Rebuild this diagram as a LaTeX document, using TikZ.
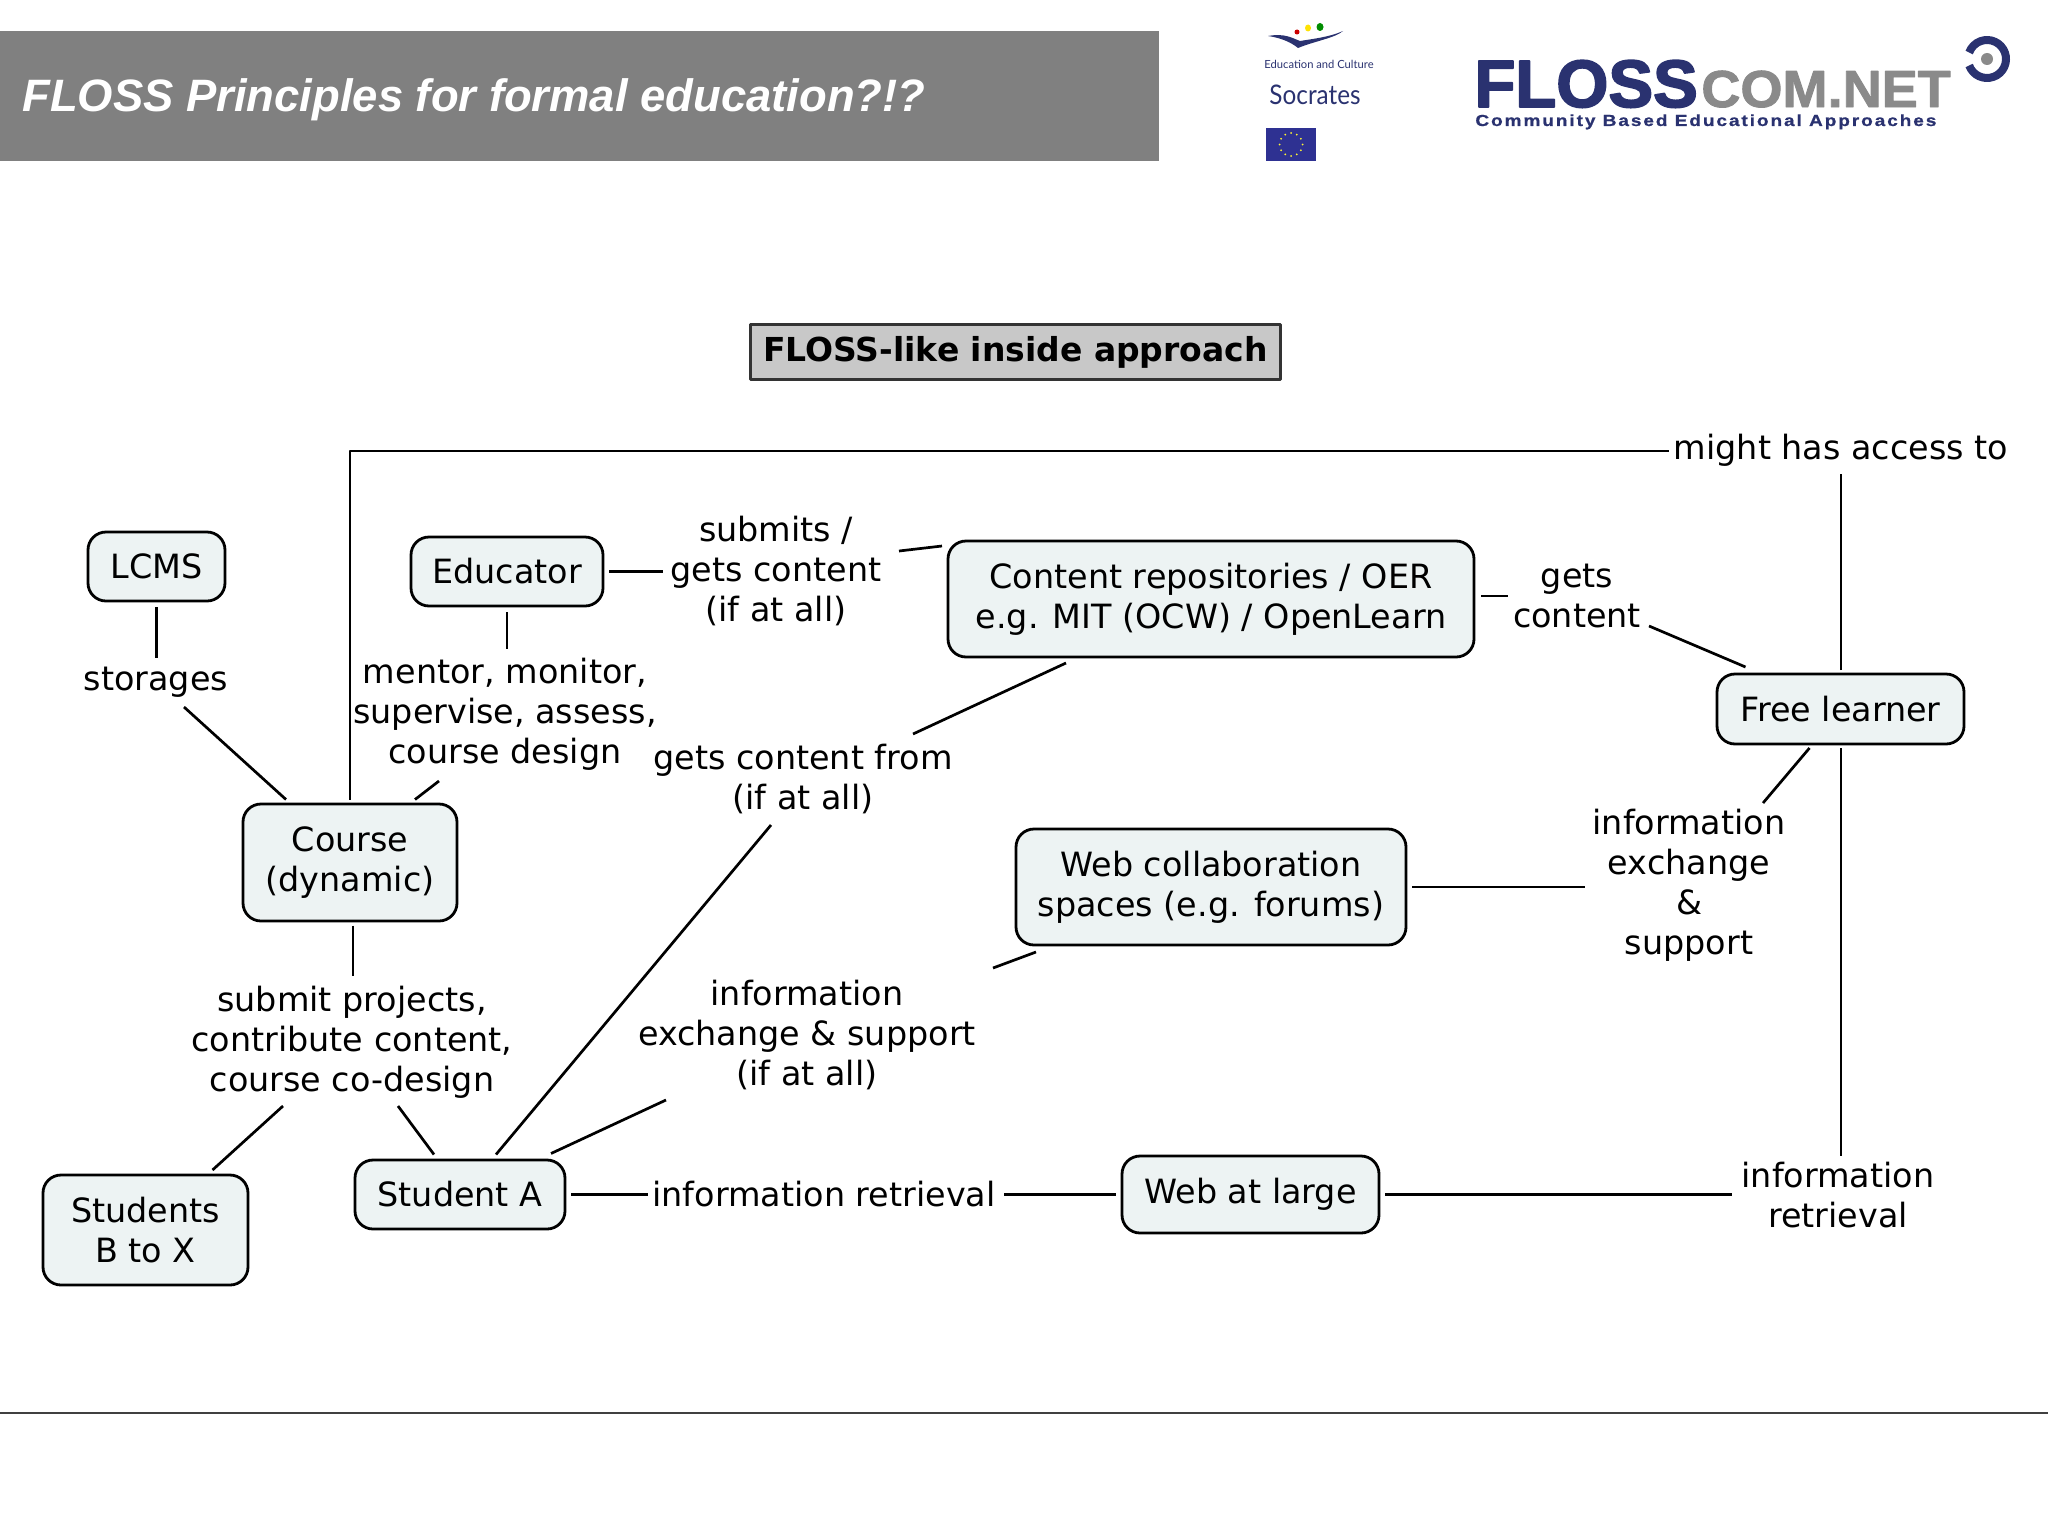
\documentclass[tikz,border=0pt]{standalone}
\usepackage{fontspec}
\usetikzlibrary{calc}
\setmainfont{DejaVu Sans}
\newfontfamily\headfont{Liberation Sans}
\newfontfamily\flossfont[FakeBold=2.6]{Liberation Sans}
\newfontfamily\comfont[FakeBold=1.8,FakeStretch=1.04]{Liberation Sans}
\newfontfamily\tagfont[FakeBold=0.8,FakeStretch=1.19,LetterSpace=12]{Liberation Sans}
\newfontfamily\socfont{Lato}
\newfontfamily\socratesfont[FakeStretch=0.9]{Lato}
\definecolor{headgrey}{HTML}{808080}
\definecolor{boxfill}{HTML}{EDF3F3}
\definecolor{titlefill}{HTML}{C8C8C8}
\definecolor{logonavy}{HTML}{2A3270}
\definecolor{logogrey}{HTML}{8A8A8A}
\definecolor{euroblue}{HTML}{2E3192}

\begin{document}
\begin{tikzpicture}[
  x=0.5pt,
  y=-0.5pt,
  line join=round,
  conceptbox/.style={draw=black,fill=boxfill,line width=1.4pt,rounded corners=9pt,
    align=center,inner sep=0pt,outer sep=3pt,font=\fontsize{16.7}{20}\selectfont},
  linklabel/.style={align=center,inner sep=0pt,font=\fontsize{16.7}{20}\selectfont},
  link/.style={draw=black,line width=1.35pt}
]
  \useasboundingbox (0,0) rectangle (2048,1536);

  % Header band and footer rule.
  \fill[headgrey] (0,31) rectangle (1159,161);
  \node[anchor=west,inner sep=0pt,text=white,font=\headfont\fontsize{22.7}{26}\selectfont\bfseries\itshape]
    (headline) at (22,100) {FLOSS Principles for formal education?!?};
  \draw[black!75,line width=0.7pt] (0,1413) -- (2048,1413);

  % Socrates logo.
  \fill[logonavy] (1268,36) .. controls (1285,33) and (1292,38) .. (1300,41)
    .. controls (1312,39) and (1330,37) .. (1343,31)
    .. controls (1335,38) and (1315,41) .. (1298,48)
    .. controls (1292,43) and (1282,38) .. (1268,36) -- cycle;
  \fill[red!80!black] (1297,32) ellipse[x radius=2.5,y radius=2.5];
  \fill[yellow!85!orange] (1308,28) ellipse[x radius=3,y radius=3.5];
  \fill[green!55!black] (1320,27) ellipse[x radius=3.5,y radius=4];
  \node[inner sep=0pt,text=logonavy,font=\socfont\fontsize{5.6}{7}\selectfont] (culture) at (1319,64) {Education and Culture};
  \node[inner sep=0pt,text=logonavy,font=\socratesfont\fontsize{13.5}{15}\selectfont] (socrates) at (1315,95) {Socrates};
  \fill[euroblue] (1266,128) rectangle (1316,161);
  \foreach \a in {0,30,...,330} {
    \fill[yellow!80!white] ($(1291,144.5)+(\a:11.5)$) circle[radius=1];
  }

  % FLOSScom logo.
  \node[anchor=base west,inner sep=0pt,text=logonavy,font=\flossfont\fontsize{33.5}{36}\selectfont\bfseries] (floss) at (1474,107) {FLOSS};
  \node[anchor=base west,inner sep=0pt,text=logogrey,font=\comfont\fontsize{26}{28}\selectfont\bfseries] (comnet) at (1701,107) {COM.NET};
  \node[anchor=base west,inner sep=0pt,text=logonavy,font=\tagfont\fontsize{8}{10}\selectfont\bfseries] (tagline) at (1475,126) {Community Based Educational Approaches};
  \draw[logonavy,line width=4pt] (1987,59) ++(160:19) arc[start angle=160,end angle=-160,radius=19];
  \fill[logogrey] (1987,59) circle[radius=6];

  % Title box.
  \node[draw=black!80,fill=titlefill,line width=1.4pt,minimum width=265pt,minimum height=27.5pt,inner sep=0pt,
    font=\fontsize{16.5}{20}\selectfont\bfseries] (approach) at (1015.5,352) {FLOSS-like inside approach};

  % Concepts.
  \node[conceptbox,minimum width=68.5pt,minimum height=34.5pt] (lcms) at (156.5,566.5) {LCMS};
  \node[conceptbox,minimum width=96pt,minimum height=34.5pt] (educator) at (507,571.5) {Educator};
  \node[conceptbox,minimum width=263pt,minimum height=58pt] (content) at (1211,599) {Content repositories / OER\\e.g. MIT (OCW) / OpenLearn};
  \node[conceptbox,minimum width=123.5pt,minimum height=35pt] (free) at (1840.5,709) {Free learner};
  \node[conceptbox,minimum width=107pt,minimum height=58.5pt] (course) at (350,862.5) {Course\\(dynamic)};
  \node[conceptbox,minimum width=195pt,minimum height=58pt] (webspaces) at (1211,887) {Web collaboration\\spaces (e.g. forums)};
  \node[conceptbox,minimum width=105pt,minimum height=34.5pt] (studenta) at (460,1194.5) {Student A};
  \node[conceptbox,minimum width=102.5pt,minimum height=55pt] (studentsb) at (145.5,1230) {Students\\B to X};
  \node[conceptbox,minimum width=128.5pt,minimum height=38.5pt] (webatlarge) at (1250.5,1194.5) {Web at large};

  % Linking phrases.
  \node[linklabel] (storages) at (156,682) {storages};
  \node[linklabel] (mentor) at (505,714) {mentor, monitor,\\supervise, assess,\\course design};
  \node[linklabel] (submits) at (776,571) {submits /\\gets content\\(if at all)};
  \node[linklabel] (getscontent) at (1577,596) {gets\\content};
  \node[linklabel] (contentfrom) at (803,779) {gets content from\\(if at all)};
  \node[linklabel] (might) at (1841,450) {might has access to};
  \node[linklabel] (exchangefree) at (1689,885) {information\\exchange\\\&\\support};
  \node[linklabel] (exchangea) at (807,1035) {information\\exchange \& support\\(if at all)};
  \node[linklabel] (projects) at (352,1042) {submit projects,\\contribute content,\\course co-design};
  \node[linklabel] (retrievala) at (824,1194) {information retrieval};
  \node[linklabel] (retrievalfree) at (1838,1195) {information\\retrieval};

  % Connectors stop short of the text they join.
  \draw[link] (lcms.south) -- ([shift={(0.5,-24)}]storages.center);
  \draw[link] ([shift={(28,25)}]storages.center) -- ([shift={(-64,-63)}]course.center);
  \draw[link] (educator.south) -- ([shift={(2,-65)}]mentor.center);
  \draw[link] ([shift={(-66,67)}]mentor.center) -- ([shift={(65,-63)}]course.center);
  \draw[link] ([shift={(0,-63)}]course.center) |- ([shift={(-172,1)}]might.center);
  \draw[link] (educator.east) -- ([shift={(-113,0.5)}]submits.center);
  \draw[link] ([shift={(123,-20)}]submits.center) -- ([shift={(-269,-53)}]content.center);
  \draw[link] ([shift={(270,-3)}]content.center) -- ([shift={(-69,0)}]getscontent.center);
  \draw[link] ([shift={(72,30)}]getscontent.center) -- ([shift={(-95,-42)}]free.center);
  \draw[link] ([shift={(0.5,-39)}]free.center) -- ([shift={(0,24)}]might.center);
  \draw[link] ([shift={(-145,64)}]content.center) -- ([shift={(110,-45)}]contentfrom.center);
  \draw[link] ([shift={(-32,46)}]contentfrom.center) -- ([shift={(36,-40)}]studenta.center);
  \draw[link] ([shift={(-31,39)}]free.center) -- ([shift={(74,-82)}]exchangefree.center);
  \draw[link] (webspaces.east) -- ([shift={(-104,2)}]exchangefree.center);
  \draw[link] ([shift={(-175,65)}]webspaces.center) -- ([shift={(186,-67)}]exchangea.center);
  \draw[link] ([shift={(-141,65)}]exchangea.center) -- ([shift={(91,-41)}]studenta.center);
  \draw[link] ([shift={(3,63)}]course.center) -- ([shift={(1,-66)}]projects.center);
  \draw[link] ([shift={(46,64)}]projects.center) -- ([shift={(-26,-40)}]studenta.center);
  \draw[link] ([shift={(-69,64)}]projects.center) -- ([shift={(67,-60)}]studentsb.center);
  \draw[link] (studenta.east) -- ([shift={(-176,0.5)}]retrievala.center);
  \draw[link] ([shift={(180,0.5)}]retrievala.center) -- (webatlarge.west);
  \draw[link] (webatlarge.east) -- ([shift={(-106,-0.5)}]retrievalfree.center);
  \draw[link] ([shift={(0.5,39)}]free.center) -- ([shift={(3,-39)}]retrievalfree.center);
\end{tikzpicture}
\end{document}
